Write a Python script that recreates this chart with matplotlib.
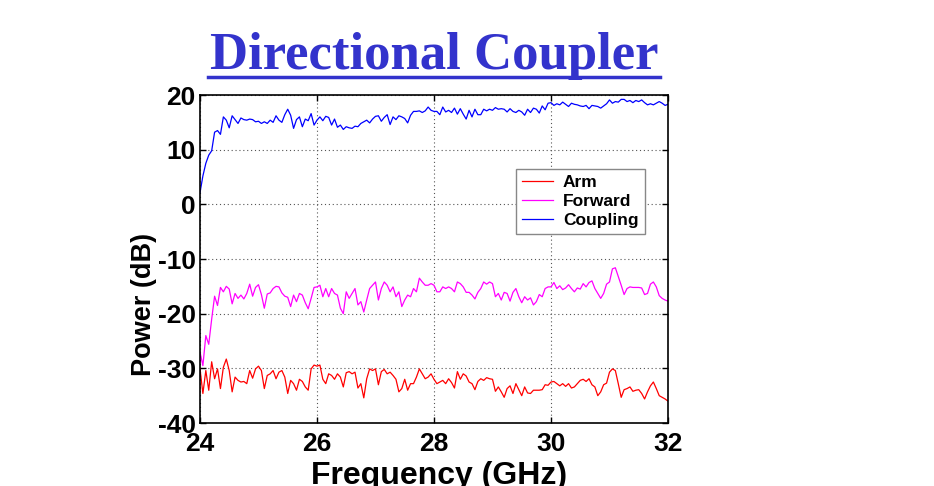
import numpy as np
import matplotlib
matplotlib.use("Agg")
import matplotlib.pyplot as plt

# Frequency samples (GHz), 0.05 GHz spacing
freq = np.round(np.linspace(24.0, 32.0, 161), 2)

arm = [
    -30.0, -34.6, -30.4, -34.0, -28.8, -31.9, -30.1, -33.7, -29.8, -28.3,
    -30.4, -34.3, -31.6, -32.2, -32.5, -32.4, -32.8, -30.4, -31.8, -30.1,
    -29.6, -30.4, -33.7, -31.3, -31.0, -30.4, -31.9, -30.7, -30.4, -31.6,
    -34.6, -32.2, -32.8, -34.0, -32.0, -32.4, -33.4, -34.0, -30.1, -29.4,
    -29.6, -29.4, -32.0, -32.8, -31.0, -31.3, -32.0, -31.0, -31.6, -33.4,
    -30.8, -30.6, -31.0, -30.7, -33.6, -32.8, -35.4, -31.9, -30.1, -30.4,
    -30.1, -33.0, -30.6, -30.2, -31.0, -30.7, -31.3, -32.0, -34.3, -33.7,
    -32.0, -34.0, -32.8, -32.8, -31.6, -30.1, -31.0, -31.9, -31.6, -31.0,
    -32.0, -32.8, -32.5, -32.2, -32.8, -31.9, -32.6, -33.6, -30.6, -32.0,
    -31.0, -31.4, -32.5, -32.8, -33.9, -32.4, -31.9, -32.2, -31.7, -31.9,
    -32.0, -34.2, -33.4, -34.3, -35.3, -33.7, -33.2, -34.6, -32.8, -33.9,
    -35.0, -33.4, -34.5, -34.6, -34.0, -34.0, -34.0, -33.9, -33.0, -33.1,
    -32.5, -32.4, -32.8, -33.2, -32.8, -33.3, -32.8, -33.6, -33.4, -32.8,
    -32.2, -32.0, -32.4, -31.9, -33.0, -33.4, -35.0, -34.3, -33.0, -32.7,
    -30.7, -30.1, -30.4, -32.8, -35.3, -33.9, -33.7, -33.4, -34.2, -34.0,
    -33.9, -34.6, -35.6, -34.3, -33.2, -32.5, -33.7, -35.0, -35.3, -35.6,
    -36.0,
]

forward = [
    -27.0, -29.5, -24.0, -25.6, -21.0, -16.8, -18.5, -15.2, -16.0, -15.0,
    -15.5, -18.2, -16.3, -17.2, -16.6, -17.3, -16.3, -14.6, -16.8, -15.2,
    -14.7, -16.5, -19.0, -16.4, -16.2, -15.4, -15.0, -15.1, -16.2, -16.8,
    -17.0, -18.7, -16.6, -17.8, -16.3, -16.6, -18.0, -19.1, -17.2, -15.2,
    -15.1, -14.8, -16.9, -15.4, -16.9, -15.4, -16.3, -16.6, -19.0, -20.0,
    -16.0, -17.2, -16.3, -15.4, -18.4, -17.8, -19.7, -17.5, -15.4, -14.8,
    -14.2, -17.5, -15.4, -14.2, -14.8, -16.0, -15.1, -16.9, -16.0, -18.7,
    -17.5, -16.6, -16.9, -15.4, -16.0, -13.5, -14.2, -14.8, -14.8, -14.5,
    -14.8, -16.0, -16.0, -15.1, -15.4, -15.1, -15.4, -16.0, -14.2, -14.5,
    -15.1, -16.1, -16.1, -16.6, -17.3, -16.1, -15.4, -14.2, -14.6, -14.2,
    -14.5, -16.9, -16.3, -17.5, -16.1, -16.3, -17.7, -16.1, -15.4, -16.9,
    -18.0, -16.9, -17.5, -17.1, -18.4, -17.8, -16.5, -16.9, -15.4, -15.1,
    -15.1, -14.3, -15.4, -14.9, -15.6, -15.3, -14.7, -15.4, -16.0, -15.3,
    -15.5, -14.5, -15.1, -14.3, -14.0, -15.4, -16.3, -17.2, -16.3, -14.6,
    -14.2, -11.8, -11.6, -13.2, -14.8, -16.5, -15.4, -15.1, -15.2, -15.2,
    -15.2, -15.3, -16.5, -16.3, -14.6, -14.2, -15.1, -16.7, -17.2, -17.5,
    -17.7,
]

coupling = [
    2.1, 5.2, 7.5, 9.0, 9.8, 13.2, 13.5, 12.8, 16.0, 15.4,
    14.0, 16.2, 15.5, 14.8, 15.8, 15.5, 15.4, 15.6, 15.5, 15.1,
    15.2, 14.8, 15.1, 14.8, 15.4, 15.0, 16.2, 15.4, 15.0, 16.4,
    17.4, 16.3, 13.9, 15.5, 16.0, 14.2, 15.6, 15.3, 16.6, 14.5,
    15.4, 16.0, 15.3, 16.1, 15.9, 14.5, 15.6, 14.1, 14.5, 13.7,
    14.2, 14.0, 13.9, 14.3, 14.2, 14.8, 15.1, 15.4, 14.9, 15.6,
    16.1, 16.2, 15.2, 15.9, 16.4, 14.6, 16.0, 15.5, 16.2, 16.0,
    15.7, 14.9, 16.3, 17.0, 17.0, 17.1, 16.8, 17.1, 17.8, 17.2,
    17.0, 17.0, 16.4, 17.8, 16.9, 17.2, 16.8, 17.6, 16.5, 17.5,
    16.5, 15.6, 17.2, 16.0, 17.4, 16.4, 16.4, 17.4, 17.1, 17.4,
    17.2, 17.7, 17.4, 17.5, 17.4, 16.9, 17.5, 17.0, 16.8, 17.2,
    16.9, 16.3, 17.4, 16.8, 17.6, 17.4, 16.7, 18.0, 17.3, 18.5,
    18.6, 18.1, 18.4, 18.2, 18.7, 18.3, 17.9, 18.5, 18.3, 18.2,
    18.0, 17.9, 18.1, 17.5, 18.1, 18.0, 17.9, 17.6, 18.0, 18.4,
    19.1, 18.5, 18.8, 18.7, 19.2, 19.2, 18.8, 19.0, 18.6, 19.0,
    18.8, 19.1, 18.6, 18.2, 18.4, 18.2, 18.5, 18.8, 18.5, 18.1,
    18.3,
]

series_names = ["Arm", "Forward", "Coupling"]
series_colors = ["#ff0000", "#ff00ff", "#0000ff"]
xticks = [24, 26, 28, 30, 32]
yticks = [-40, -30, -20, -10, 0, 10, 20]

title_color = "#3333cc"

fig = plt.figure(figsize=(9.34, 4.86), dpi=100)
fig.patch.set_facecolor("white")
ax = fig.add_axes([0.2141, 0.1296, 0.5011, 0.6749])

for name, vals, col in zip(series_names, [arm, forward, coupling], series_colors):
    ax.plot(freq, vals, color=col, lw=0.9, label=name)

ax.set_xlim(24, 32)
ax.set_ylim(-40, 20)
ax.set_xticks(xticks)
ax.set_yticks(yticks)
ax.set_xticklabels([str(t) for t in xticks])
ax.set_yticklabels([str(t) for t in yticks])

for lab in ax.get_xticklabels() + ax.get_yticklabels():
    lab.set_fontfamily("Liberation Sans")
    lab.set_fontweight("bold")
    lab.set_fontsize(19)

ax.tick_params(direction="in", length=4, width=1, top=True, right=True,
               colors="black")
ax.tick_params(axis="x", pad=6.5)
ax.tick_params(axis="y", pad=3)

ax.grid(True, color="#555555", linestyle=(0, (1, 2.5)), lw=0.8)
for sp in ax.spines.values():
    sp.set_linewidth(1.2)
    sp.set_color("black")

# Axis labels (placed as in the reference slide; x label runs off the bottom edge there too)
fig.text(439 / 934, 1 - 484 / 486, "Frequency (GHz)", fontfamily="Liberation Sans",
         fontweight="bold", fontsize=23, ha="center", va="baseline")
fig.text(144 / 934, 1 - 304 / 486, "Power (dB)", fontfamily="Liberation Sans",
         fontweight="bold", fontsize=19.5, ha="center", va="center",
         rotation=90)

leg = ax.legend(loc="upper left", bbox_to_anchor=(516 / 934, 1 - 169 / 486),
                bbox_transform=fig.transFigure, borderaxespad=0,
                prop=dict(family="Liberation Sans", size=12.5, weight="bold"),
                fancybox=False, framealpha=1, edgecolor="#888888",
                handlelength=1.8, handletextpad=0.55, labelspacing=0.22,
                borderpad=0.35)
leg.get_frame().set_linewidth(1.0)

# Title with underline
fig.text(0.4647, 1 - 69 / 486, "Directional Coupler",
         fontfamily="Liberation Serif", fontweight="bold", fontsize=38,
         color=title_color, ha="center", va="baseline")
fig.add_artist(plt.Line2D([208 / 934, 660 / 934], [1 - 77 / 486, 1 - 77 / 486],
                          transform=fig.transFigure, color=title_color, lw=2.5))

fig.savefig("out.png", dpi=100)
